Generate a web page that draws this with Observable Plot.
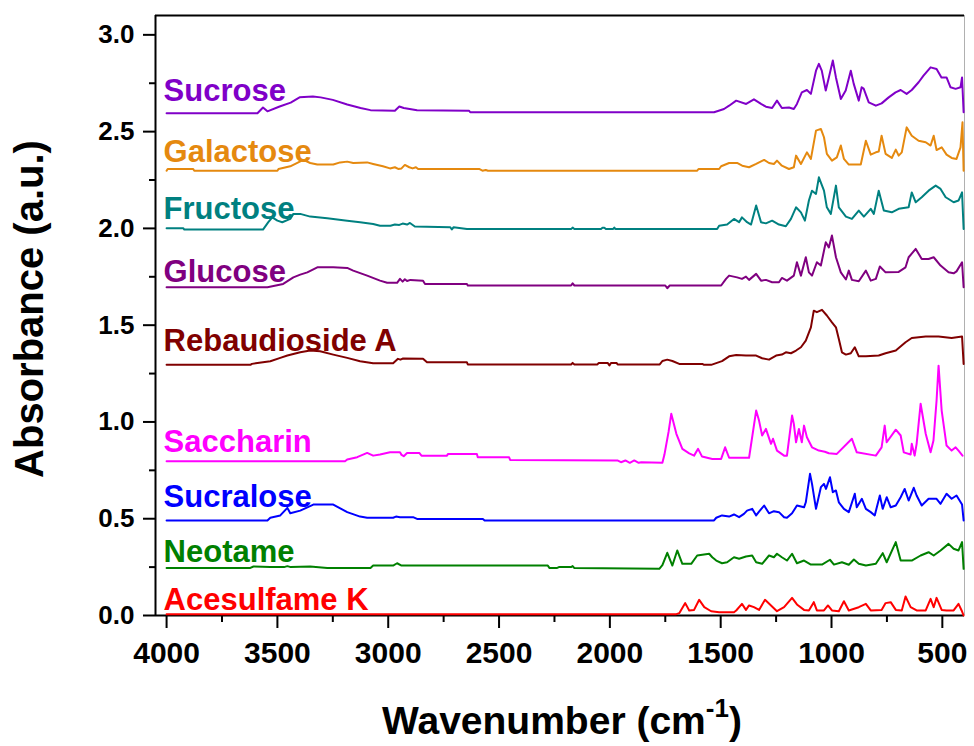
<!DOCTYPE html>
<html><head><meta charset="utf-8">
<script src="https://cdn.jsdelivr.net/npm/d3@7"></script>
<script src="https://cdn.jsdelivr.net/npm/@observablehq/plot@0.6"></script>
<style>
body{margin:0;background:#fff;}
#chart{width:974px;height:746px;}
svg{font-family:"Liberation Sans",Arial,sans-serif;}
</style>
</head><body><div id="chart"></div>
<script>
// Series names, colours and label anchor values (absorbance units)
const names = ["Sucrose","Galactose","Fructose","Glucose","Rebaudioside A","Saccharin","Sucralose","Neotame","Acesulfame K"];
const colors = ["#8000c8","#e5890f","#008080","#800080","#800000","#ff00ff","#0000ff","#008000","#ff0000"];
const labelY = [2.660, 2.341, 2.051, 1.722, 1.369, 0.843, 0.563, 0.275, 0.026];

// Tick values
const xMajor = [4000,3500,3000,2500,2000,1500,1000,500];
const xMinor = [3750,3250,2750,2250,1750,1250,750];
const yMajor = [0,0.5,1,1.5,2,2.5,3];
const yMinor = [0.25,0.75,1.25,1.75,2.25,2.75];

// Spectra: [wavenumber (cm-1), absorbance (a.u.)]
const sucrose = [[4000,2.595],[3590,2.595],[3565,2.625],[3545,2.605],[3490,2.630],[3440,2.650],[3400,2.677],[3340,2.682],[3305,2.677],[3250,2.664],[3185,2.640],[3125,2.622],[3080,2.611],[2970,2.608],[2950,2.630],[2930,2.622],[2870,2.610],[2635,2.608],[2630,2.600],[1530,2.600],[1485,2.617],[1462,2.634],[1430,2.660],[1385,2.643],[1350,2.667],[1318,2.643],[1296,2.629],[1268,2.622],[1246,2.660],[1224,2.622],[1192,2.625],[1170,2.617],[1156,2.643],[1134,2.703],[1111,2.715],[1093,2.695],[1070,2.815],[1057,2.850],[1044,2.815],[1026,2.712],[1012,2.780],[994,2.867],[980,2.780],[958,2.669],[936,2.712],[913,2.815],[900,2.748],[877,2.660],[864,2.729],[855,2.722],[832,2.651],[800,2.634],[774,2.646],[742,2.677],[711,2.703],[688,2.715],[661,2.695],[638,2.715],[607,2.755],[585,2.789],[553,2.832],[526,2.824],[504,2.780],[481,2.780],[463,2.729],[440,2.721],[418,2.729],[411,2.780],[404,2.600]];
const galactose = [[4000,2.298],[3995,2.307],[3880,2.307],[3875,2.298],[3500,2.298],[3495,2.307],[3442,2.321],[3383,2.354],[3352,2.338],[3320,2.330],[3248,2.330],[3217,2.341],[3185,2.345],[3158,2.338],[3095,2.341],[3068,2.333],[3024,2.321],[2992,2.310],[2970,2.316],[2955,2.307],[2940,2.310],[2925,2.328],[2905,2.316],[2890,2.310],[2875,2.316],[2865,2.307],[2590,2.307],[2575,2.298],[2560,2.302],[2550,2.298],[1606,2.298],[1600,2.307],[1507,2.307],[1498,2.321],[1462,2.338],[1426,2.338],[1403,2.324],[1372,2.316],[1340,2.333],[1304,2.354],[1282,2.338],[1260,2.333],[1246,2.350],[1224,2.324],[1192,2.307],[1170,2.316],[1160,2.376],[1138,2.333],[1111,2.393],[1093,2.359],[1070,2.505],[1048,2.514],[1034,2.471],[1021,2.385],[998,2.350],[976,2.367],[958,2.428],[944,2.359],[922,2.330],[868,2.330],[845,2.453],[823,2.381],[800,2.393],[787,2.397],[774,2.479],[756,2.385],[728,2.364],[710,2.407],[697,2.376],[683,2.393],[661,2.522],[638,2.479],[607,2.453],[575,2.445],[553,2.428],[539,2.479],[526,2.405],[503,2.419],[481,2.381],[458,2.364],[436,2.359],[418,2.419],[409,2.548],[404,2.298]];
const fructose = [[4000,2.001],[3925,2.001],[3920,1.994],[3565,1.994],[3541,2.032],[3523,2.057],[3500,2.040],[3478,2.032],[3442,2.049],[3428,2.075],[3397,2.075],[3352,2.061],[3275,2.052],[3185,2.040],[3127,2.032],[3068,2.023],[3037,2.014],[2990,2.014],[2970,2.020],[2950,2.018],[2935,2.025],[2915,2.020],[2902,2.028],[2880,2.010],[2720,2.006],[2713,1.995],[2705,2.006],[2645,1.997],[2175,1.997],[2168,2.004],[2160,1.997],[2040,1.997],[2033,2.004],[2025,2.004],[2018,1.997],[1985,1.997],[1980,2.004],[1975,1.997],[1516,1.997],[1507,2.014],[1471,2.020],[1440,2.049],[1417,2.032],[1404,2.057],[1381,2.032],[1363,2.020],[1340,2.118],[1318,2.032],[1296,2.026],[1268,2.040],[1237,2.020],[1206,2.011],[1183,2.049],[1160,2.109],[1138,2.083],[1120,2.040],[1102,2.144],[1088,2.195],[1070,2.178],[1057,2.264],[1034,2.195],[1021,2.109],[1003,2.075],[980,2.221],[967,2.109],[935,2.061],[908,2.049],[877,2.092],[854,2.061],[823,2.101],[809,2.075],[787,2.195],[764,2.092],[728,2.083],[697,2.101],[652,2.109],[638,2.186],[620,2.135],[593,2.161],[562,2.195],[530,2.221],[508,2.204],[485,2.161],[472,2.152],[449,2.135],[427,2.144],[411,2.186],[404,1.997]];
const glucose = [[4000,1.696],[3545,1.696],[3474,1.713],[3428,1.747],[3397,1.761],[3365,1.773],[3320,1.799],[3248,1.799],[3185,1.796],[3158,1.782],[3095,1.756],[3037,1.730],[3005,1.719],[2960,1.719],[2947,1.739],[2935,1.725],[2925,1.737],[2915,1.728],[2900,1.734],[2843,1.730],[2834,1.713],[2645,1.713],[2641,1.705],[2175,1.705],[2168,1.716],[2160,1.705],[1750,1.705],[1741,1.691],[1730,1.705],[1498,1.705],[1476,1.739],[1462,1.756],[1426,1.747],[1404,1.739],[1386,1.751],[1372,1.734],[1340,1.765],[1318,1.730],[1296,1.734],[1268,1.722],[1237,1.722],[1224,1.744],[1201,1.730],[1170,1.756],[1156,1.825],[1138,1.756],[1116,1.851],[1102,1.773],[1088,1.756],[1066,1.825],[1048,1.808],[1026,1.928],[1012,1.902],[998,1.963],[980,1.851],[958,1.773],[935,1.736],[922,1.782],[908,1.734],[877,1.727],[845,1.782],[823,1.730],[800,1.739],[782,1.803],[756,1.773],[697,1.775],[666,1.799],[652,1.851],[620,1.894],[593,1.842],[562,1.842],[539,1.851],[508,1.808],[472,1.773],[449,1.768],[436,1.778],[411,1.825],[404,1.696]];
const rebaudiosideA = [[4000,1.295],[3622,1.295],[3615,1.300],[3590,1.305],[3532,1.314],[3487,1.331],[3455,1.343],[3397,1.360],[3352,1.369],[3307,1.365],[3248,1.348],[3185,1.331],[3127,1.314],[3068,1.303],[2978,1.303],[2956,1.326],[2945,1.322],[2933,1.328],[2843,1.326],[2825,1.308],[2645,1.308],[2641,1.297],[2175,1.297],[2168,1.305],[2160,1.297],[2056,1.297],[2050,1.305],[2010,1.305],[2002,1.292],[1995,1.305],[1970,1.305],[1965,1.297],[1775,1.297],[1763,1.315],[1741,1.322],[1718,1.315],[1687,1.300],[1583,1.300],[1575,1.295],[1543,1.295],[1494,1.314],[1462,1.339],[1430,1.346],[1386,1.343],[1340,1.343],[1313,1.329],[1282,1.322],[1250,1.343],[1224,1.348],[1206,1.360],[1183,1.355],[1160,1.369],[1138,1.386],[1116,1.420],[1093,1.489],[1080,1.575],[1066,1.567],[1043,1.579],[1021,1.550],[998,1.515],[980,1.489],[967,1.429],[953,1.360],[935,1.348],[913,1.355],[895,1.386],[877,1.339],[845,1.339],[787,1.343],[756,1.355],[710,1.369],[666,1.412],[638,1.434],[575,1.441],[517,1.441],[458,1.434],[411,1.441],[404,1.300]];
const saccharin = [[4000,0.797],[3195,0.797],[3185,0.806],[3140,0.818],[3095,0.840],[3068,0.826],[3037,0.832],[2992,0.843],[2947,0.843],[2940,0.830],[2930,0.823],[2915,0.840],[2860,0.840],[2850,0.826],[2735,0.826],[2730,0.835],[2600,0.835],[2596,0.818],[2455,0.818],[2450,0.804],[1966,0.801],[1950,0.792],[1930,0.801],[1910,0.789],[1890,0.801],[1870,0.789],[1858,0.792],[1763,0.789],[1754,0.830],[1735,0.950],[1723,1.042],[1700,0.939],[1673,0.861],[1642,0.838],[1620,0.826],[1602,0.861],[1584,0.821],[1538,0.809],[1498,0.809],[1480,0.869],[1462,0.815],[1372,0.815],[1340,1.059],[1327,1.007],[1313,0.930],[1296,0.964],[1273,0.887],[1264,0.913],[1246,0.852],[1214,0.826],[1201,0.826],[1178,1.033],[1170,0.990],[1160,0.895],[1147,0.964],[1134,0.895],[1124,0.981],[1111,0.921],[1088,0.869],[1057,0.852],[1030,0.846],[1012,0.838],[976,0.835],[908,0.913],[886,0.843],[800,0.826],[774,0.869],[760,0.981],[751,0.895],[710,0.960],[688,0.930],[674,0.843],[643,0.832],[638,0.887],[625,0.826],[616,0.887],[598,1.094],[575,0.939],[553,0.843],[540,0.904],[526,1.111],[517,1.291],[503,1.059],[481,0.878],[458,0.852],[440,0.869],[427,0.852],[409,0.826]];
const sucralose = [[4000,0.491],[3545,0.491],[3532,0.505],[3487,0.517],[3455,0.556],[3442,0.528],[3397,0.542],[3338,0.573],[3248,0.573],[3185,0.534],[3127,0.511],[3095,0.505],[2978,0.505],[2965,0.511],[2947,0.508],[2888,0.508],[2870,0.499],[2573,0.499],[2565,0.491],[2542,0.491],[1530,0.491],[1520,0.505],[1494,0.517],[1462,0.511],[1440,0.522],[1417,0.508],[1395,0.525],[1381,0.542],[1358,0.551],[1340,0.517],[1327,0.537],[1304,0.568],[1282,0.528],[1260,0.539],[1237,0.534],[1214,0.508],[1201,0.505],[1178,0.528],[1156,0.568],[1124,0.559],[1116,0.585],[1097,0.732],[1088,0.680],[1070,0.551],[1048,0.663],[1034,0.680],[1025,0.654],[1007,0.714],[994,0.637],[980,0.646],[967,0.585],[944,0.551],[922,0.534],[895,0.629],[886,0.559],[863,0.603],[845,0.551],[823,0.534],[805,0.517],[782,0.620],[769,0.551],[751,0.611],[733,0.559],[710,0.568],[688,0.611],[670,0.654],[652,0.594],[629,0.660],[616,0.620],[593,0.568],[562,0.603],[526,0.603],[508,0.577],[481,0.629],[458,0.603],[436,0.620],[411,0.573],[404,0.491]];
const neotame = [[4000,0.246],[3622,0.246],[3608,0.253],[3532,0.250],[3470,0.250],[3455,0.255],[3440,0.250],[3352,0.253],[3275,0.246],[3080,0.246],[3068,0.258],[2978,0.258],[2960,0.270],[2940,0.258],[2280,0.258],[2272,0.245],[2240,0.245],[2230,0.250],[2175,0.250],[2168,0.255],[2160,0.245],[1777,0.241],[1763,0.260],[1741,0.324],[1718,0.258],[1696,0.336],[1673,0.267],[1633,0.267],[1606,0.310],[1552,0.319],[1538,0.301],[1520,0.284],[1494,0.270],[1471,0.275],[1440,0.301],[1417,0.293],[1386,0.305],[1358,0.310],[1340,0.275],[1313,0.267],[1282,0.310],[1260,0.301],[1246,0.319],[1224,0.301],[1201,0.284],[1178,0.319],[1156,0.270],[1124,0.284],[1093,0.263],[1043,0.263],[1007,0.288],[989,0.263],[953,0.275],[922,0.262],[899,0.289],[877,0.267],[845,0.258],[800,0.267],[769,0.322],[751,0.275],[710,0.379],[688,0.284],[638,0.284],[598,0.310],[562,0.327],[539,0.310],[508,0.336],[472,0.370],[449,0.345],[427,0.336],[411,0.379],[404,0.241]];
const acesulfameK = [[4000,0.007],[1700,0.007],[1687,0.012],[1660,0.064],[1642,0.026],[1620,0.029],[1597,0.081],[1574,0.043],[1543,0.022],[1507,0.017],[1440,0.017],[1430,0.026],[1404,0.060],[1386,0.029],[1372,0.052],[1350,0.043],[1327,0.029],[1300,0.081],[1273,0.052],[1246,0.022],[1214,0.043],[1178,0.091],[1156,0.057],[1124,0.029],[1102,0.026],[1080,0.069],[1066,0.026],[1034,0.026],[1016,0.052],[998,0.026],[967,0.022],[944,0.074],[922,0.026],[877,0.043],[845,0.060],[823,0.026],[774,0.029],[756,0.064],[733,0.069],[710,0.029],[683,0.026],[666,0.098],[643,0.043],[616,0.026],[575,0.026],[553,0.086],[539,0.043],[526,0.091],[503,0.029],[481,0.026],[449,0.026],[427,0.060],[413,0.026],[404,0.000]];

const spectra = [sucrose, galactose, fructose, glucose, rebaudiosideA, saccharin, sucralose, neotame, acesulfameK];
const rows = spectra.flatMap((s, i) => s.map(([x, y]) => ({name: names[i], x, y})));
const labels = names.map((name, i) => ({name, x: 4000, y: labelY[i]}));

const font = "'Liberation Sans', Arial, sans-serif";
const chart = Plot.plot({
  width: 974, height: 746,
  marginLeft: 155, marginRight: 10, marginTop: 15, marginBottom: 131,
  style: {fontFamily: font, background: "#fff", color: "#000"},
  x: {domain: [4050, 400]},
  y: {domain: [0, 3.1]},
  color: {domain: names, range: colors},
  marks: [
    Plot.axisY(yMinor, {tickSize: 6, strokeWidth: 2, tickFormat: () => "", label: null}),
    Plot.axisY(yMajor, {tickSize: 12, tickPadding: 9, strokeWidth: 2, tickFormat: d3.format(".1f"), fontSize: 26, fontWeight: "bold", label: null}),
    Plot.axisX(xMinor, {tickSize: 7, strokeWidth: 2, tickFormat: () => "", label: null}),
    Plot.axisX(xMajor, {tickSize: 13, tickPadding: 13, strokeWidth: 2, tickFormat: d3.format("d"), fontSize: 30, fontWeight: "bold", label: null}),
    Plot.ruleX([400], {stroke: "#b0b0b0", strokeWidth: 1}),
    Plot.ruleY([3.1], {stroke: "#000", strokeWidth: 2}),
    Plot.ruleX([4050], {stroke: "#000", strokeWidth: 2}),
    Plot.ruleY([0], {stroke: "#000", strokeWidth: 2}),
    Plot.line(rows, {x: "x", y: "y", z: "name", stroke: "name", strokeWidth: 2, curve: "linear"}),
    Plot.text(labels, {x: "x", y: "y", text: "name", fill: "name", textAnchor: "start", lineAnchor: "bottom", dx: -3, fontSize: 31, fontWeight: "bold"})
  ]
});
document.getElementById("chart").appendChild(chart);

// Axis titles
const svg = d3.select(chart);
const xt = svg.append("text")
  .attr("x", 562).attr("y", 734)
  .attr("text-anchor", "middle")
  .attr("font-family", font).attr("font-weight", "bold").attr("font-size", 39)
  .attr("fill", "#000");
xt.append("tspan").text("Wavenumber (cm");
xt.append("tspan").attr("dy", -17).attr("font-size", 26).text("-1");
xt.append("tspan").attr("dy", 17).text(")");
svg.append("text")
  .attr("transform", "translate(43,309) rotate(-90)")
  .attr("text-anchor", "middle")
  .attr("font-family", font).attr("font-weight", "bold").attr("font-size", 40)
  .attr("fill", "#000")
  .text("Absorbance (a.u.)");
</script>
</body></html>
